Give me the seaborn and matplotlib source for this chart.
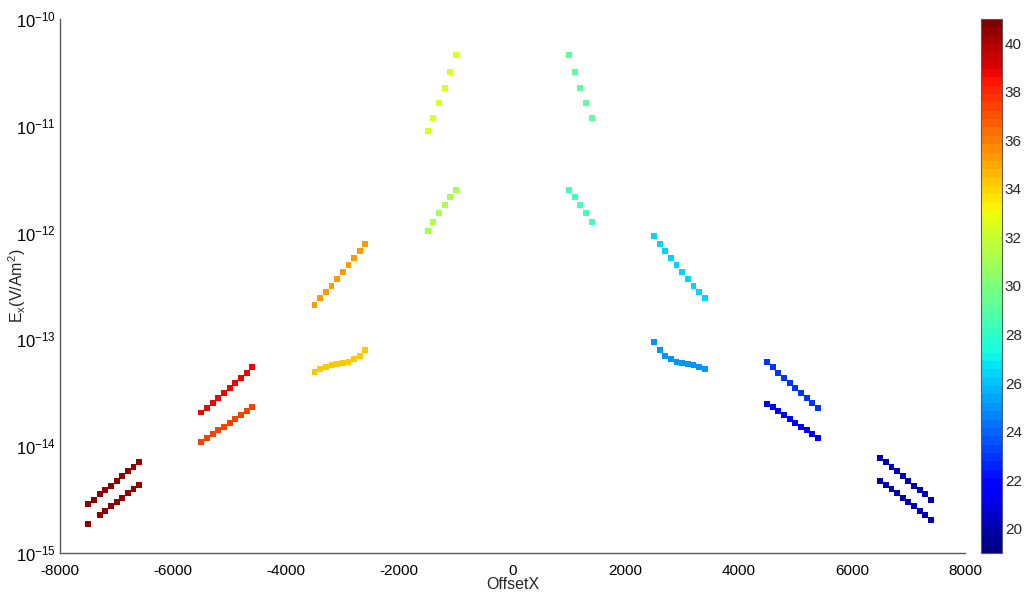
import numpy as np
import pandas as pd
import matplotlib
matplotlib.use("Agg")
import matplotlib.pyplot as plt
import matplotlib.ticker as mticker
import seaborn as sns

# Offset positions (m) and field amplitudes Ex (V/Am^2) per receiver line
x_a = [-7500, -7400, -7300, -7200, -7100, -7000, -6900, -6800, -6700, -6600]
y_a = [2.88e-15, 3.13e-15, 3.55e-15, 3.87e-15, 4.27e-15, 4.72e-15, 5.26e-15, 5.82e-15, 6.38e-15, 7.06e-15]
x_b = [-7500, -7300, -7200, -7100, -7000, -6900, -6800, -6700, -6600]
y_b = [1.87e-15, 2.27e-15, 2.49e-15, 2.74e-15, 3.02e-15, 3.29e-15, 3.64e-15, 3.97e-15, 4.36e-15]

x_c = [-5500, -5400, -5300, -5200, -5100, -5000, -4900, -4800, -4700, -4600]
y_c = [2.07e-14, 2.28e-14, 2.55e-14, 2.84e-14, 3.13e-14, 3.48e-14, 3.91e-14, 4.38e-14, 4.88e-14, 5.47e-14]
y_d = [1.09e-14, 1.19e-14, 1.29e-14, 1.41e-14, 1.52e-14, 1.66e-14, 1.80e-14, 1.96e-14, 2.12e-14, 2.31e-14]

x_e = [-3500, -3400, -3300, -3200, -3100, -3000, -2900, -2800, -2700, -2600]
y_e = [2.11e-13, 2.43e-13, 2.76e-13, 3.16e-13, 3.68e-13, 4.25e-13, 4.94e-13, 5.75e-13, 6.68e-13, 7.87e-13]
y_f = [4.95e-14, 5.25e-14, 5.48e-14, 5.72e-14, 5.88e-14, 6.01e-14, 6.18e-14, 6.55e-14, 6.99e-14, 7.96e-14]

x_g = [-1500, -1400, -1300, -1200, -1100, -1000]
y_g = [8.87e-12, 1.18e-11, 1.63e-11, 2.24e-11, 3.17e-11, 4.60e-11]
y_h = [1.03e-12, 1.26e-12, 1.53e-12, 1.83e-12, 2.15e-12, 2.51e-12]

x_i = [1000, 1100, 1200, 1300, 1400]
y_i = [4.60e-11, 3.17e-11, 2.24e-11, 1.63e-11, 1.18e-11]
y_j = [2.51e-12, 2.15e-12, 1.83e-12, 1.53e-12, 1.26e-12]

x_k = [2500, 2600, 2700, 2800, 2900, 3000, 3100, 3200, 3300, 3400]
y_k = [9.29e-13, 7.87e-13, 6.68e-13, 5.75e-13, 4.94e-13, 4.25e-13, 3.68e-13, 3.16e-13, 2.76e-13, 2.43e-13]
y_l = [9.52e-14, 7.96e-14, 6.99e-14, 6.55e-14, 6.18e-14, 6.01e-14, 5.88e-14, 5.72e-14, 5.48e-14, 5.25e-14]

x_m = [4500, 4600, 4700, 4800, 4900, 5000, 5100, 5200, 5300, 5400]
y_m = [6.09e-14, 5.47e-14, 4.88e-14, 4.38e-14, 3.91e-14, 3.48e-14, 3.13e-14, 2.85e-14, 2.55e-14, 2.28e-14]
y_n = [2.50e-14, 2.31e-14, 2.12e-14, 1.96e-14, 1.80e-14, 1.66e-14, 1.52e-14, 1.41e-14, 1.29e-14, 1.19e-14]

x_o = [6500, 6600, 6700, 6800, 6900, 7000, 7100, 7200, 7300, 7400]
y_o = [7.82e-15, 7.06e-15, 6.38e-15, 5.82e-15, 5.26e-15, 4.72e-15, 4.27e-15, 3.87e-15, 3.55e-15, 3.13e-15]
y_p = [4.72e-15, 4.36e-15, 3.97e-15, 3.63e-15, 3.29e-15, 3.02e-15, 2.74e-15, 2.49e-15, 2.27e-15, 2.05e-15]

# Colour value of each line
lines = [
    (x_a, y_a, 40.5), (x_b, y_b, 40.5),
    (x_c, y_c, 38.6), (x_c, y_d, 37.3),
    (x_e, y_e, 35.4), (x_e, y_f, 34.4),
    (x_g, y_g, 32.5), (x_g, y_h, 31.3),
    (x_i, y_i, 29.2), (x_i, y_j, 28.3),
    (x_k, y_k, 26.3), (x_k, y_l, 24.9),
    (x_m, y_m, 22.9), (x_m, y_n, 21.6),
    (x_o, y_o, 20.1), (x_o, y_p, 20.1),
]
x_ticks = [-8000, -6000, -4000, -2000, 0, 2000, 4000, 6000, 8000]
y_ticks = [1e-15, 1e-14, 1e-13, 1e-12, 1e-11, 1e-10]
cbar_ticks = [20, 22, 24, 26, 28, 30, 32, 34, 36, 38, 40]

df = pd.concat(
    [pd.DataFrame({"OffsetX": xs, "Ex": ys, "val": v}) for xs, ys, v in lines],
    ignore_index=True,
)

sns.set_style("white")
plt.rcParams["font.family"] = ["Liberation Sans", "DejaVu Sans"]
plt.rcParams["mathtext.fontset"] = "custom"
plt.rcParams["mathtext.rm"] = "Liberation Sans"
plt.rcParams["mathtext.it"] = "Liberation Sans:italic"
plt.rcParams["axes.unicode_minus"] = False

cmap = plt.get_cmap("jet", 64)
norm = matplotlib.colors.Normalize(vmin=19, vmax=41)

fig = plt.figure(figsize=(10.25, 5.95), dpi=100)
ax = fig.add_axes([60 / 1025, 1 - 553 / 595, 905 / 1025, 534 / 595])
cax = fig.add_axes([981 / 1025, 1 - 553 / 595, 21 / 1025, 534 / 595])

sns.scatterplot(data=df, x="OffsetX", y="Ex", hue="val", palette=cmap,
                hue_norm=norm, marker="s", s=18, linewidth=0, legend=False, ax=ax)

ax.set_yscale("log")
ax.set_xlim(-8000, 8000)
ax.set_ylim(1e-15, 1e-10)
ax.set_xticks(x_ticks)
ax.set_yticks(y_ticks)
ax.yaxis.set_major_formatter(
    mticker.FuncFormatter(lambda v, p: r"10$^{\mathregular{%d}}$" % round(np.log10(v))))
ax.yaxis.set_minor_locator(mticker.LogLocator(base=10, subs=np.arange(2, 10), numticks=20))
ax.yaxis.set_minor_formatter(mticker.NullFormatter())

for side in ("top", "right"):
    ax.spines[side].set_visible(False)
for side in ("left", "bottom"):
    ax.spines[side].set_color("#5a5a5a")
    ax.spines[side].set_linewidth(1.0)
ax.tick_params(axis="both", which="major", direction="in", length=6, width=0.9,
               color="#5a5a5a", labelsize=11, labelcolor="black")
ax.tick_params(axis="y", which="minor", direction="in", length=4, width=0.8,
               color="#5a5a5a")
ax.tick_params(axis="x", which="major", pad=8)
ax.tick_params(axis="y", which="major", pad=3)
for lbl in ax.get_yticklabels():
    lbl.set_fontsize(12)

ax.set_xlabel("OffsetX", fontsize=11.5, labelpad=-1)
ax.set_ylabel(r"E$_\mathregular{x}$(V/Am$^\mathregular{2}$)", fontsize=11.5)
ax.yaxis.set_label_coords(-32 / 905, 0.5)

sm = matplotlib.cm.ScalarMappable(norm=norm, cmap=cmap)
cb = fig.colorbar(sm, cax=cax, ticks=cbar_ticks)
cb.outline.set_edgecolor("#5a5a5a")
cb.outline.set_linewidth(0.8)
cax.yaxis.set_minor_locator(mticker.MultipleLocator(1))
cax.tick_params(which="both", direction="in", length=4, width=0.8, color="#333333",
                labelsize=11, left=True, right=True, pad=2)
cax.tick_params(which="minor", length=3)

fig.savefig("out.png", dpi=100)
